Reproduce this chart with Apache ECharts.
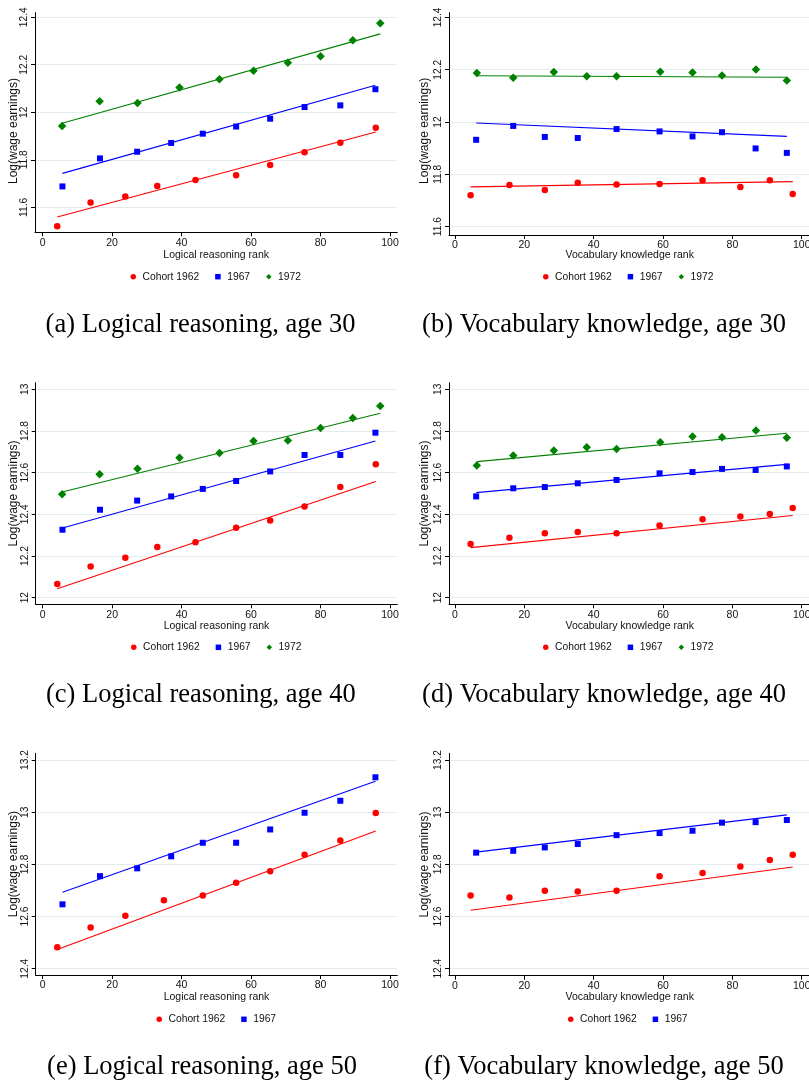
<!DOCTYPE html>
<html><head><meta charset="utf-8">
<script src="https://cdn.jsdelivr.net/npm/echarts@6.0.0/dist/echarts.min.js"></script>
<style>html,body{margin:0;padding:0;background:#fff}#chart{width:809px;height:1084px}</style>
</head><body><div id="chart"></div>
<script>
// ---------------- data ----------------
const cohortNames = ['Cohort 1962', '1967', '1972'];
const rankTicks = [0, 20, 40, 60, 80, 100];
const yTicksAge30 = [11.6, 11.8, 12, 12.2, 12.4];
const yTicksAge40 = [12, 12.2, 12.4, 12.6, 12.8, 13];
const yTicksAge50 = [12.4, 12.6, 12.8, 13, 13.2];

// rank positions (x)
const logicRank1962 = [4.2, 13.8, 23.8, 33.0, 44.0, 55.7, 65.5, 75.4, 85.7, 95.9];
const logicRank1962Age50 = [4.2, 13.8, 23.8, 34.9, 46.1, 55.7, 65.5, 75.4, 85.7, 95.9];
const logicRank1967 = [5.7, 16.5, 27.2, 37.0, 46.1, 55.7, 65.5, 75.4, 85.7, 95.8];
const logicRank1972 = [5.6, 16.4, 27.3, 39.4, 50.9, 60.7, 70.6, 80.0, 89.3, 97.2];
const vocabRank1962 = [4.5, 15.7, 25.9, 35.4, 46.6, 59.0, 71.4, 82.3, 90.8, 97.4];
const vocabRank1967 = [6.1, 16.8, 25.9, 35.4, 46.6, 59.0, 68.5, 77.0, 86.7, 95.7];
const vocabRank1972 = [6.3, 16.8, 28.5, 38.0, 46.6, 59.2, 68.5, 77.0, 86.8, 95.7];

// log wage earnings, age 30
const logic30_1962 = [11.520, 11.620, 11.646, 11.690, 11.715, 11.735, 11.778, 11.832, 11.872, 11.935];
const logic30_1967 = [11.688, 11.806, 11.834, 11.871, 11.910, 11.940, 11.973, 12.022, 12.029, 12.097];
const logic30_1972 = [11.942, 12.046, 12.039, 12.104, 12.139, 12.175, 12.208, 12.236, 12.303, 12.375];
const vocab30_1962 = [11.720, 11.759, 11.740, 11.768, 11.761, 11.763, 11.777, 11.752, 11.777, 11.725];
const vocab30_1967 = [11.932, 11.985, 11.943, 11.939, 11.973, 11.964, 11.945, 11.961, 11.899, 11.882];
const vocab30_1972 = [12.187, 12.169, 12.191, 12.175, 12.175, 12.192, 12.189, 12.178, 12.201, 12.159];
// age 40
const logic40_1962 = [12.066, 12.150, 12.192, 12.243, 12.266, 12.336, 12.370, 12.438, 12.531, 12.640];
const logic40_1967 = [12.326, 12.422, 12.466, 12.486, 12.522, 12.560, 12.606, 12.685, 12.685, 12.792];
const logic40_1972 = [12.496, 12.592, 12.619, 12.672, 12.694, 12.752, 12.755, 12.814, 12.862, 12.920];
const vocab40_1962 = [12.258, 12.288, 12.309, 12.315, 12.309, 12.346, 12.376, 12.390, 12.402, 12.430];
const vocab40_1967 = [12.486, 12.525, 12.531, 12.549, 12.565, 12.597, 12.603, 12.618, 12.613, 12.630];
const vocab40_1972 = [12.635, 12.682, 12.707, 12.722, 12.714, 12.746, 12.774, 12.770, 12.802, 12.768];
// age 50
const logic50_1962 = [12.482, 12.558, 12.603, 12.663, 12.681, 12.730, 12.774, 12.837, 12.892, 12.997];
const logic50_1967 = [12.647, 12.755, 12.785, 12.831, 12.883, 12.883, 12.934, 12.998, 13.044, 13.134];
const vocab50_1962 = [12.681, 12.673, 12.699, 12.696, 12.699, 12.754, 12.767, 12.792, 12.817, 12.837];
const vocab50_1967 = [12.845, 12.852, 12.865, 12.878, 12.912, 12.920, 12.929, 12.960, 12.962, 12.970];

// fitted lines: value at the first and at the last rank point
const logic30Fit1962 = [11.559, 11.917];
const logic30Fit1967 = [11.743, 12.114];
const logic30Fit1972 = [11.954, 12.330];
const vocab30Fit1962 = [11.752, 11.772];
const vocab30Fit1967 = [11.996, 11.945];
const vocab30Fit1972 = [12.177, 12.171];
const logic40Fit1962 = [12.043, 12.558];
const logic40Fit1967 = [12.334, 12.752];
const logic40Fit1972 = [12.507, 12.885];
const vocab40Fit1962 = [12.240, 12.394];
const vocab40Fit1967 = [12.504, 12.640];
const vocab40Fit1972 = [12.653, 12.789];
const logic50Fit1962 = [12.474, 12.928];
const logic50Fit1967 = [12.693, 13.119];
const vocab50Fit1962 = [12.624, 12.790];
const vocab50Fit1967 = [12.847, 12.990];

// ---------------- styles / layout ----------------
const cohortColors = ['#ff0000', '#0000ff', '#008000'];
const cohortSymbols = ['circle', 'rect', 'diamond'];
const cohortSizes = [6.5, 6, 8.5];
const legendIcons = ['circle', 'rect', 'diamond'];
const SANS = '"Liberation Sans", Arial, sans-serif';
const SERIF = '"Liberation Serif", "Times New Roman", serif';

const panels = [
  { grid: {left: 35, top: 12.7, width: 362.3, height: 219.6}, x: [-2.2, 102.1], y: [11.495, 12.419], yTicks: yTicksAge30,
    xName: 'Logical reasoning rank', xGap: 17.5, yGap: 15.5, yShift: 17,
    groups: [[logicRank1962, logic30_1962, logic30Fit1962], [logicRank1967, logic30_1967, logic30Fit1967], [logicRank1972, logic30_1972, logic30Fit1972]],
    legend: {left: 130.5, top: 271.7}, caption: {x: 200.5, y: 324.8, text: '(a) Logical reasoning, age 30'} },
  { grid: {left: 449, top: 12.7, width: 361.4, height: 222.3}, x: [-1.73, 102.5], y: [11.568, 12.418], yTicks: yTicksAge30,
    xName: 'Vocabulary knowledge rank', xGap: 15, yGap: 18, yShift: 14,
    groups: [[vocabRank1962, vocab30_1962, vocab30Fit1962], [vocabRank1967, vocab30_1967, vocab30Fit1967], [vocabRank1972, vocab30_1972, vocab30Fit1972]],
    legend: {left: 543, top: 271.7}, caption: {x: 604, y: 324.8, text: '(b) Vocabulary knowledge, age 30'} },
  { grid: {left: 35.7, top: 382.7, width: 361.6, height: 221.6}, x: [-2.01, 102.1], y: [11.968, 13.032], yTicks: yTicksAge40,
    xName: 'Logical reasoning rank', xGap: 16, yGap: 16.2, yShift: 0,
    groups: [[logicRank1962, logic40_1962, logic40Fit1962], [logicRank1967, logic40_1967, logic40Fit1967], [logicRank1972, logic40_1972, logic40Fit1972]],
    legend: {left: 131, top: 642.3}, caption: {x: 200.8, y: 694.7, text: '(c) Logical reasoning, age 40'} },
  { grid: {left: 449, top: 382.7, width: 361.4, height: 221.6}, x: [-1.73, 102.5], y: [11.968, 13.032], yTicks: yTicksAge40,
    xName: 'Vocabulary knowledge rank', xGap: 16, yGap: 18, yShift: 0,
    groups: [[vocabRank1962, vocab40_1962, vocab40Fit1962], [vocabRank1967, vocab40_1967, vocab40Fit1967], [vocabRank1972, vocab40_1972, vocab40Fit1972]],
    legend: {left: 543, top: 642.3}, caption: {x: 604, y: 694.7, text: '(d) Vocabulary knowledge, age 40'} },
  { grid: {left: 35.7, top: 753.3, width: 361.6, height: 221.7}, x: [-2.01, 102.1], y: [12.376, 13.226], yTicks: yTicksAge50,
    xName: 'Logical reasoning rank', xGap: 16.5, yGap: 16.2, yShift: 0,
    groups: [[logicRank1962Age50, logic50_1962, logic50Fit1962], [logicRank1967, logic50_1967, logic50Fit1967]],
    legend: {left: 156.5, top: 1014.3}, caption: {x: 202, y: 1067.2, text: '(e) Logical reasoning, age 50'} },
  { grid: {left: 449, top: 753.3, width: 361.4, height: 222.4}, x: [-1.73, 102.5], y: [12.373, 13.226], yTicks: yTicksAge50,
    xName: 'Vocabulary knowledge rank', xGap: 16, yGap: 18, yShift: 0,
    groups: [[vocabRank1962, vocab50_1962, vocab50Fit1962], [vocabRank1967, vocab50_1967, vocab50Fit1967]],
    legend: {left: 568, top: 1014.3}, caption: {x: 604, y: 1067.2, text: '(f) Vocabulary knowledge, age 50'} }
];

const grids = [], xAxes = [], yAxes = [], series = [], legends = [], graphics = [];

panels.forEach((p, i) => {
  grids.push(Object.assign({outerBoundsMode: 'none', containLabel: false}, p.grid));
  xAxes.push({
    type: 'value', gridIndex: i, min: p.x[0], max: p.x[1],
    name: p.xName, nameLocation: 'middle', nameGap: p.xGap, nameMoveOverlap: false,
    nameTextStyle: {fontFamily: SANS, fontSize: 10.5, color: '#111'},
    axisLine: {show: true, onZero: false, lineStyle: {color: '#000', width: 1}},
    axisTick: {show: true, inside: false, length: 4, customValues: rankTicks, lineStyle: {color: '#000', width: 1}},
    axisLabel: {show: true, customValues: rankTicks, margin: 5, fontFamily: SANS, fontSize: 10.5, color: '#111'},
    splitLine: {show: false}
  });
  yAxes.push({
    type: 'value', gridIndex: i, min: p.y[0], max: p.y[1],
    name: 'Log(wage earnings)', nameLocation: 'middle', nameGap: p.yGap, nameRotate: 90, nameMoveOverlap: false,
    nameTextStyle: {fontFamily: SANS, fontSize: 12, color: '#111', padding: [0, p.yShift, 0, 0]},
    axisLine: {show: true, onZero: false, lineStyle: {color: '#000', width: 1}},
    axisTick: {show: true, inside: false, length: 4, customValues: p.yTicks, lineStyle: {color: '#000', width: 1}},
    axisLabel: {show: true, customValues: p.yTicks, rotate: 90, margin: 5.5, fontFamily: SANS, fontSize: 10.2, color: '#111'},
    splitLine: {show: true, lineStyle: {color: '#e3ecee', width: 1}}
  });
  p.groups.forEach((g, c) => {
    const ranks = g[0], vals = g[1], fit = g[2];
    series.push({
      type: 'scatter', name: cohortNames[c], xAxisIndex: i, yAxisIndex: i,
      symbol: cohortSymbols[c], symbolSize: cohortSizes[c],
      itemStyle: {color: cohortColors[c], opacity: 1},
      data: ranks.map((r, k) => [r, vals[k]]), z: 2
    });
    series.push({
      type: 'line', name: cohortNames[c] + ' fit', xAxisIndex: i, yAxisIndex: i,
      symbol: 'none', showSymbol: false, silent: true,
      lineStyle: {color: cohortColors[c], width: 1.1},
      data: [[ranks[0], fit[0]], [ranks[ranks.length - 1], fit[1]]], z: 3
    });
  });
  legends.push({
    left: p.legend.left, top: p.legend.top, orient: 'horizontal', padding: 0,
    itemWidth: 5.5, itemHeight: 5.5, itemGap: 16, selectedMode: false,
    textStyle: {fontFamily: SANS, fontSize: 10.3, color: '#111', padding: [0, 0, 0, 1.5]},
    data: p.groups.map((g, c) => ({name: cohortNames[c], icon: legendIcons[c]}))
  });
  graphics.push({
    type: 'text', x: p.caption.x, y: p.caption.y,
    style: {text: p.caption.text, fontFamily: SERIF, fontSize: 26.5, fill: '#000', align: 'center', verticalAlign: 'middle'}
  });
});

const chart = echarts.init(document.getElementById('chart'), null, {renderer: 'canvas'});
chart.setOption({
  animation: false,
  backgroundColor: '#fff',
  grid: grids, xAxis: xAxes, yAxis: yAxes, series: series, legend: legends,
  graphic: graphics
});
</script>
</body></html>
